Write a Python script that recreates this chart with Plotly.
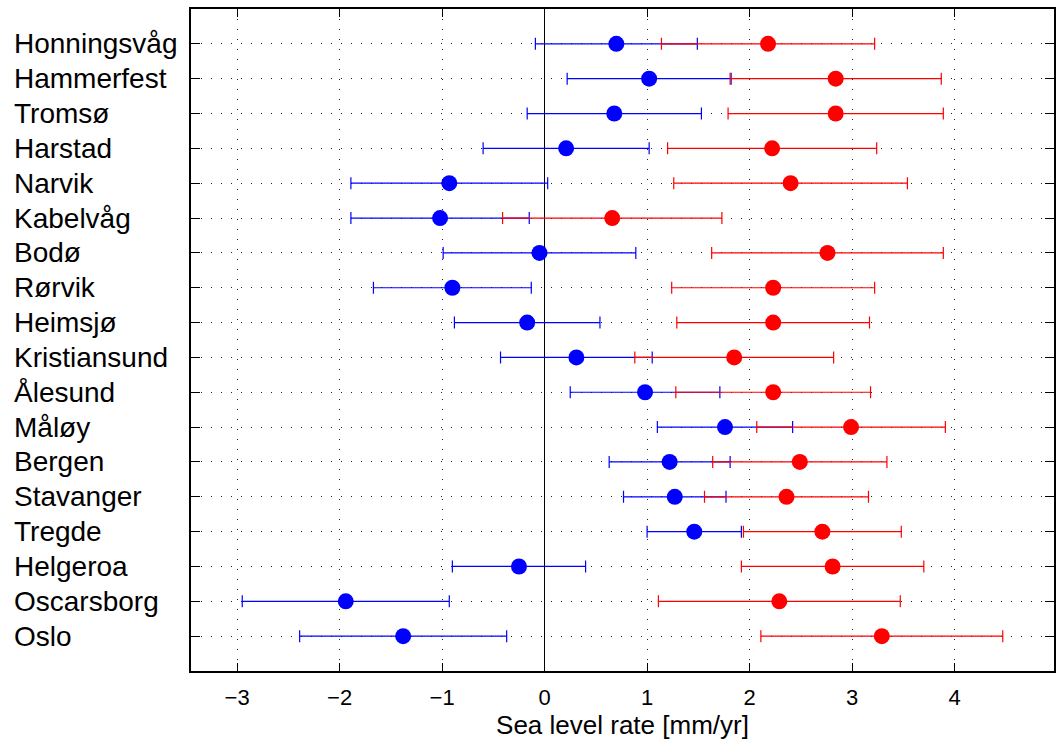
import plotly.graph_objects as go

# Tide-gauge stations, listed north to south
stations = [
    "Honningsvåg", "Hammerfest", "Tromsø", "Harstad", "Narvik", "Kabelvåg",
    "Bodø", "Rørvik", "Heimsjø", "Kristiansund", "Ålesund", "Måløy",
    "Bergen", "Stavanger", "Tregde", "Helgeroa", "Oscarsborg", "Oslo",
]

# Relative rate (blue) with symmetric uncertainty
blue_rate = [0.70, 1.02, 0.68, 0.21, -0.93, -1.02, -0.05, -0.90, -0.17,
             0.31, 0.98, 1.76, 1.22, 1.27, 1.46, -0.25, -1.94, -1.38]
blue_err = [0.79, 0.80, 0.85, 0.81, 0.96, 0.87, 0.94, 0.77, 0.71,
            0.74, 0.73, 0.66, 0.59, 0.50, 0.46, 0.65, 1.01, 1.01]

# Land-motion corrected rate (red) with symmetric uncertainty
red_rate = [2.18, 2.84, 2.84, 2.22, 2.40, 0.66, 2.76, 2.23, 2.23,
            1.85, 2.23, 2.99, 2.49, 2.36, 2.71, 2.81, 2.29, 3.29]
red_err = [1.04, 1.03, 1.05, 1.02, 1.14, 1.07, 1.13, 0.99, 0.94,
           0.97, 0.95, 0.92, 0.85, 0.80, 0.77, 0.89, 1.18, 1.18]

x_ticks = [-3, -2, -1, 0, 1, 2, 3, 4]

FONT = "Liberation Sans, Arial, Helvetica, sans-serif"

fig = go.Figure()

for rate, err, colour, name in [
    (blue_rate, blue_err, "#0000FF", "Relative rate"),
    (red_rate, red_err, "#FF0000", "Corrected rate"),
]:
    fig.add_trace(go.Scatter(
        x=rate,
        y=stations,
        mode="markers",
        name=name,
        marker=dict(color=colour, size=16, symbol="circle", line=dict(width=0)),
        error_x=dict(type="data", array=err, symmetric=True,
                     color=colour, thickness=1.2, width=6),
        showlegend=False,
    ))

# Station names, left-aligned beside the axis
for s in stations:
    fig.add_annotation(
        x=-0.2069, xref="paper", xanchor="left",
        y=s, yref="y", yanchor="middle",
        text=s, showarrow=False,
        font=dict(family=FONT, size=28, color="black"),
    )

fig.update_layout(
    width=1058, height=742,
    margin=dict(l=191, r=2, t=9, b=71),
    paper_bgcolor="white", plot_bgcolor="white",
    font=dict(family=FONT, color="black"),
)

fig.update_xaxes(
    range=[-3.45, 4.97],
    tickvals=x_ticks,
    ticks="inside", ticklen=8, tickwidth=1, tickcolor="black",
    tickfont=dict(size=22, family=FONT, color="black"),
    ticklabelstandoff=6,
    showline=True, linecolor="black", linewidth=1.5, mirror="ticks",
    showgrid=True, gridcolor="#222", gridwidth=1, griddash="1px,9px",
    zeroline=True, zerolinecolor="black", zerolinewidth=1,
    title=dict(text="Sea level rate [mm/yr]", font=dict(size=26, family=FONT),
               standoff=6),
)

fig.update_yaxes(
    type="category",
    categoryorder="array", categoryarray=stations[::-1],
    range=[-1, 18],
    showticklabels=False,
    ticks="inside", ticklen=9, tickwidth=1, tickcolor="black",
    showline=True, linecolor="black", linewidth=1.5, mirror="ticks",
    showgrid=True, gridcolor="#222", gridwidth=1, griddash="1px,9px",
    zeroline=False,
)

fig.write_html("out.html")
